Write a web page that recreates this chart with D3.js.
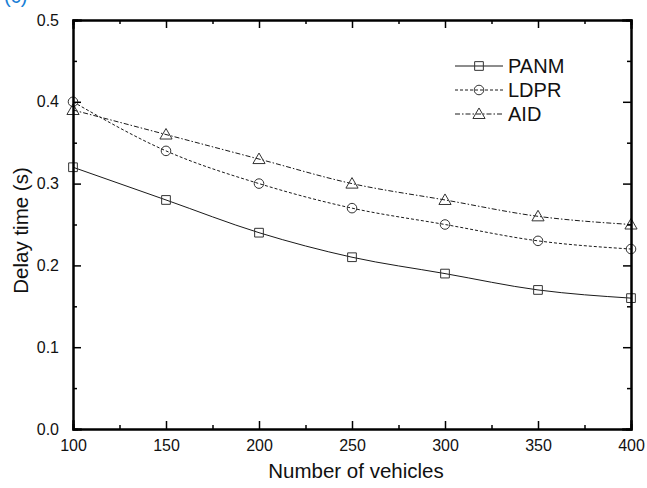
<!DOCTYPE html>
<html>
<head>
<meta charset="utf-8">
<script src="https://cdn.jsdelivr.net/npm/d3@7"></script>
<style>
  body { margin: 0; background: #fff; }
  text { font-family: "Liberation Sans", Arial, sans-serif; fill: #111; }
</style>
</head>
<body>
<div id="chart"></div>
<script>
// data
const vehicles = [100, 150, 200, 250, 300, 350, 400];
const panm = [0.32, 0.28, 0.24, 0.21, 0.19, 0.17, 0.16];
const ldpr = [0.40, 0.34, 0.30, 0.27, 0.25, 0.23, 0.22];
const aid  = [0.39, 0.36, 0.33, 0.30, 0.28, 0.26, 0.25];
const xTicks = [100, 150, 200, 250, 300, 350, 400];
const yTicks = [0.0, 0.1, 0.2, 0.3, 0.4, 0.5];

const W = 647, H = 488;
const margin = { top: 20, right: 16, bottom: 59, left: 73 };
const pw = W - margin.left - margin.right;
const ph = H - margin.top - margin.bottom;

const svg = d3.select('#chart').append('svg')
  .attr('width', W).attr('height', H);

// panel label, cut off at the top edge as in the original figure
svg.append('text')
  .attr('x', 4).attr('y', 3)
  .attr('font-size', '20px')
  .style('fill', '#1a7fd6')
  .text('(c)');

const g = svg.append('g').attr('transform', `translate(${margin.left},${margin.top})`);

const x = d3.scaleLinear().domain([100, 400]).range([0, pw]);
const y = d3.scaleLinear().domain([0, 0.5]).range([ph, 0]);

const series = [
  { name: 'PANM', values: panm, dash: null, marker: 'square' },
  { name: 'LDPR', values: ldpr, dash: '3,2', marker: 'circle' },
  { name: 'AID',  values: aid,  dash: '5,2,1.5,2', marker: 'triangle' }
];

const symbolFor = {
  square: d3.symbol().type(d3.symbolSquare).size(76),
  circle: d3.symbol().type(d3.symbolCircle).size(72),
  triangle: d3.symbol().type(d3.symbolTriangle).size(64)
};

const line = d3.line()
  .x((d, i) => x(vehicles[i]))
  .y(d => y(d))
  .curve(d3.curveMonotoneX);

const dataLayer = g.append('g');
series.forEach(s => {
  dataLayer.append('path')
    .datum(s.values)
    .attr('fill', 'none')
    .attr('stroke', '#1a1a1a')
    .attr('stroke-width', 1)
    .attr('stroke-dasharray', s.dash)
    .attr('d', line);

  dataLayer.selectAll(null)
    .data(s.values)
    .enter().append('path')
    .attr('transform', (d, i) => `translate(${x(vehicles[i])},${y(d) + (s.marker === 'triangle' ? 1 : 0)})`)
    .attr('d', symbolFor[s.marker])
    .attr('fill', 'none')
    .attr('stroke', '#333')
    .attr('stroke-width', 1);
});

// axes: ticks point inward, on all four sides
const xMinor = d3.range(125, 400, 50);
const yMinor = d3.range(0.05, 0.5, 0.1);

const axisStyle = sel => {
  sel.select('.domain').attr('stroke', '#000').attr('stroke-width', 2);
  sel.selectAll('.tick line').attr('stroke', '#000').attr('stroke-width', 1.5);
  sel.selectAll('text').attr('font-size', '16px');
};

g.append('g').attr('transform', `translate(0,${ph})`)
  .call(d3.axisBottom(x).tickValues(xTicks).tickSize(-8).tickPadding(11).tickFormat(d3.format('d')))
  .call(axisStyle);
g.append('g').attr('transform', `translate(0,${ph})`)
  .call(d3.axisBottom(x).tickValues(xMinor).tickSize(-4).tickFormat(''))
  .call(axisStyle);

g.append('g')
  .call(d3.axisLeft(y).tickValues(yTicks).tickSize(-8).tickPadding(14).tickFormat(d3.format('.1f')))
  .call(axisStyle);
g.append('g')
  .call(d3.axisLeft(y).tickValues(yMinor).tickSize(-4).tickFormat(''))
  .call(axisStyle);

g.append('g')
  .call(d3.axisTop(x).tickValues(xTicks).tickSize(-8).tickFormat(''))
  .call(axisStyle);
g.append('g')
  .call(d3.axisTop(x).tickValues(xMinor).tickSize(-4).tickFormat(''))
  .call(axisStyle);

g.append('g').attr('transform', `translate(${pw},0)`)
  .call(d3.axisRight(y).tickValues(yTicks).tickSize(-8).tickFormat(''))
  .call(axisStyle);
g.append('g').attr('transform', `translate(${pw},0)`)
  .call(d3.axisRight(y).tickValues(yMinor).tickSize(-4).tickFormat(''))
  .call(axisStyle);

g.selectAll('.domain').attr('stroke-linecap', 'square');

// axis titles
g.append('text')
  .attr('x', pw / 2 + 4).attr('y', ph + 49)
  .attr('text-anchor', 'middle')
  .attr('font-size', '20.5px')
  .text('Number of vehicles');

g.append('text')
  .attr('transform', 'rotate(-90)')
  .attr('x', -ph / 2 - 6).attr('y', -45)
  .attr('text-anchor', 'middle')
  .attr('font-size', '20.5px')
  .text('Delay time (s)');

// legend
const legend = svg.append('g').attr('transform', 'translate(455,66)');
series.forEach((s, i) => {
  const row = legend.append('g').attr('transform', `translate(0,${i * 24})`);
  row.append('line')
    .attr('x1', 0).attr('x2', 48).attr('y1', 0).attr('y2', 0)
    .attr('stroke', '#1a1a1a')
    .attr('stroke-dasharray', s.dash);
  row.append('path')
    .attr('transform', `translate(24,${s.marker === 'triangle' ? 1 : 0})`)
    .attr('d', symbolFor[s.marker])
    .attr('fill', 'none')
    .attr('stroke', '#333');
  row.append('text')
    .attr('x', 53).attr('y', 7)
    .attr('font-size', '20px')
    .text(s.name);
});
</script>
</body>
</html>
